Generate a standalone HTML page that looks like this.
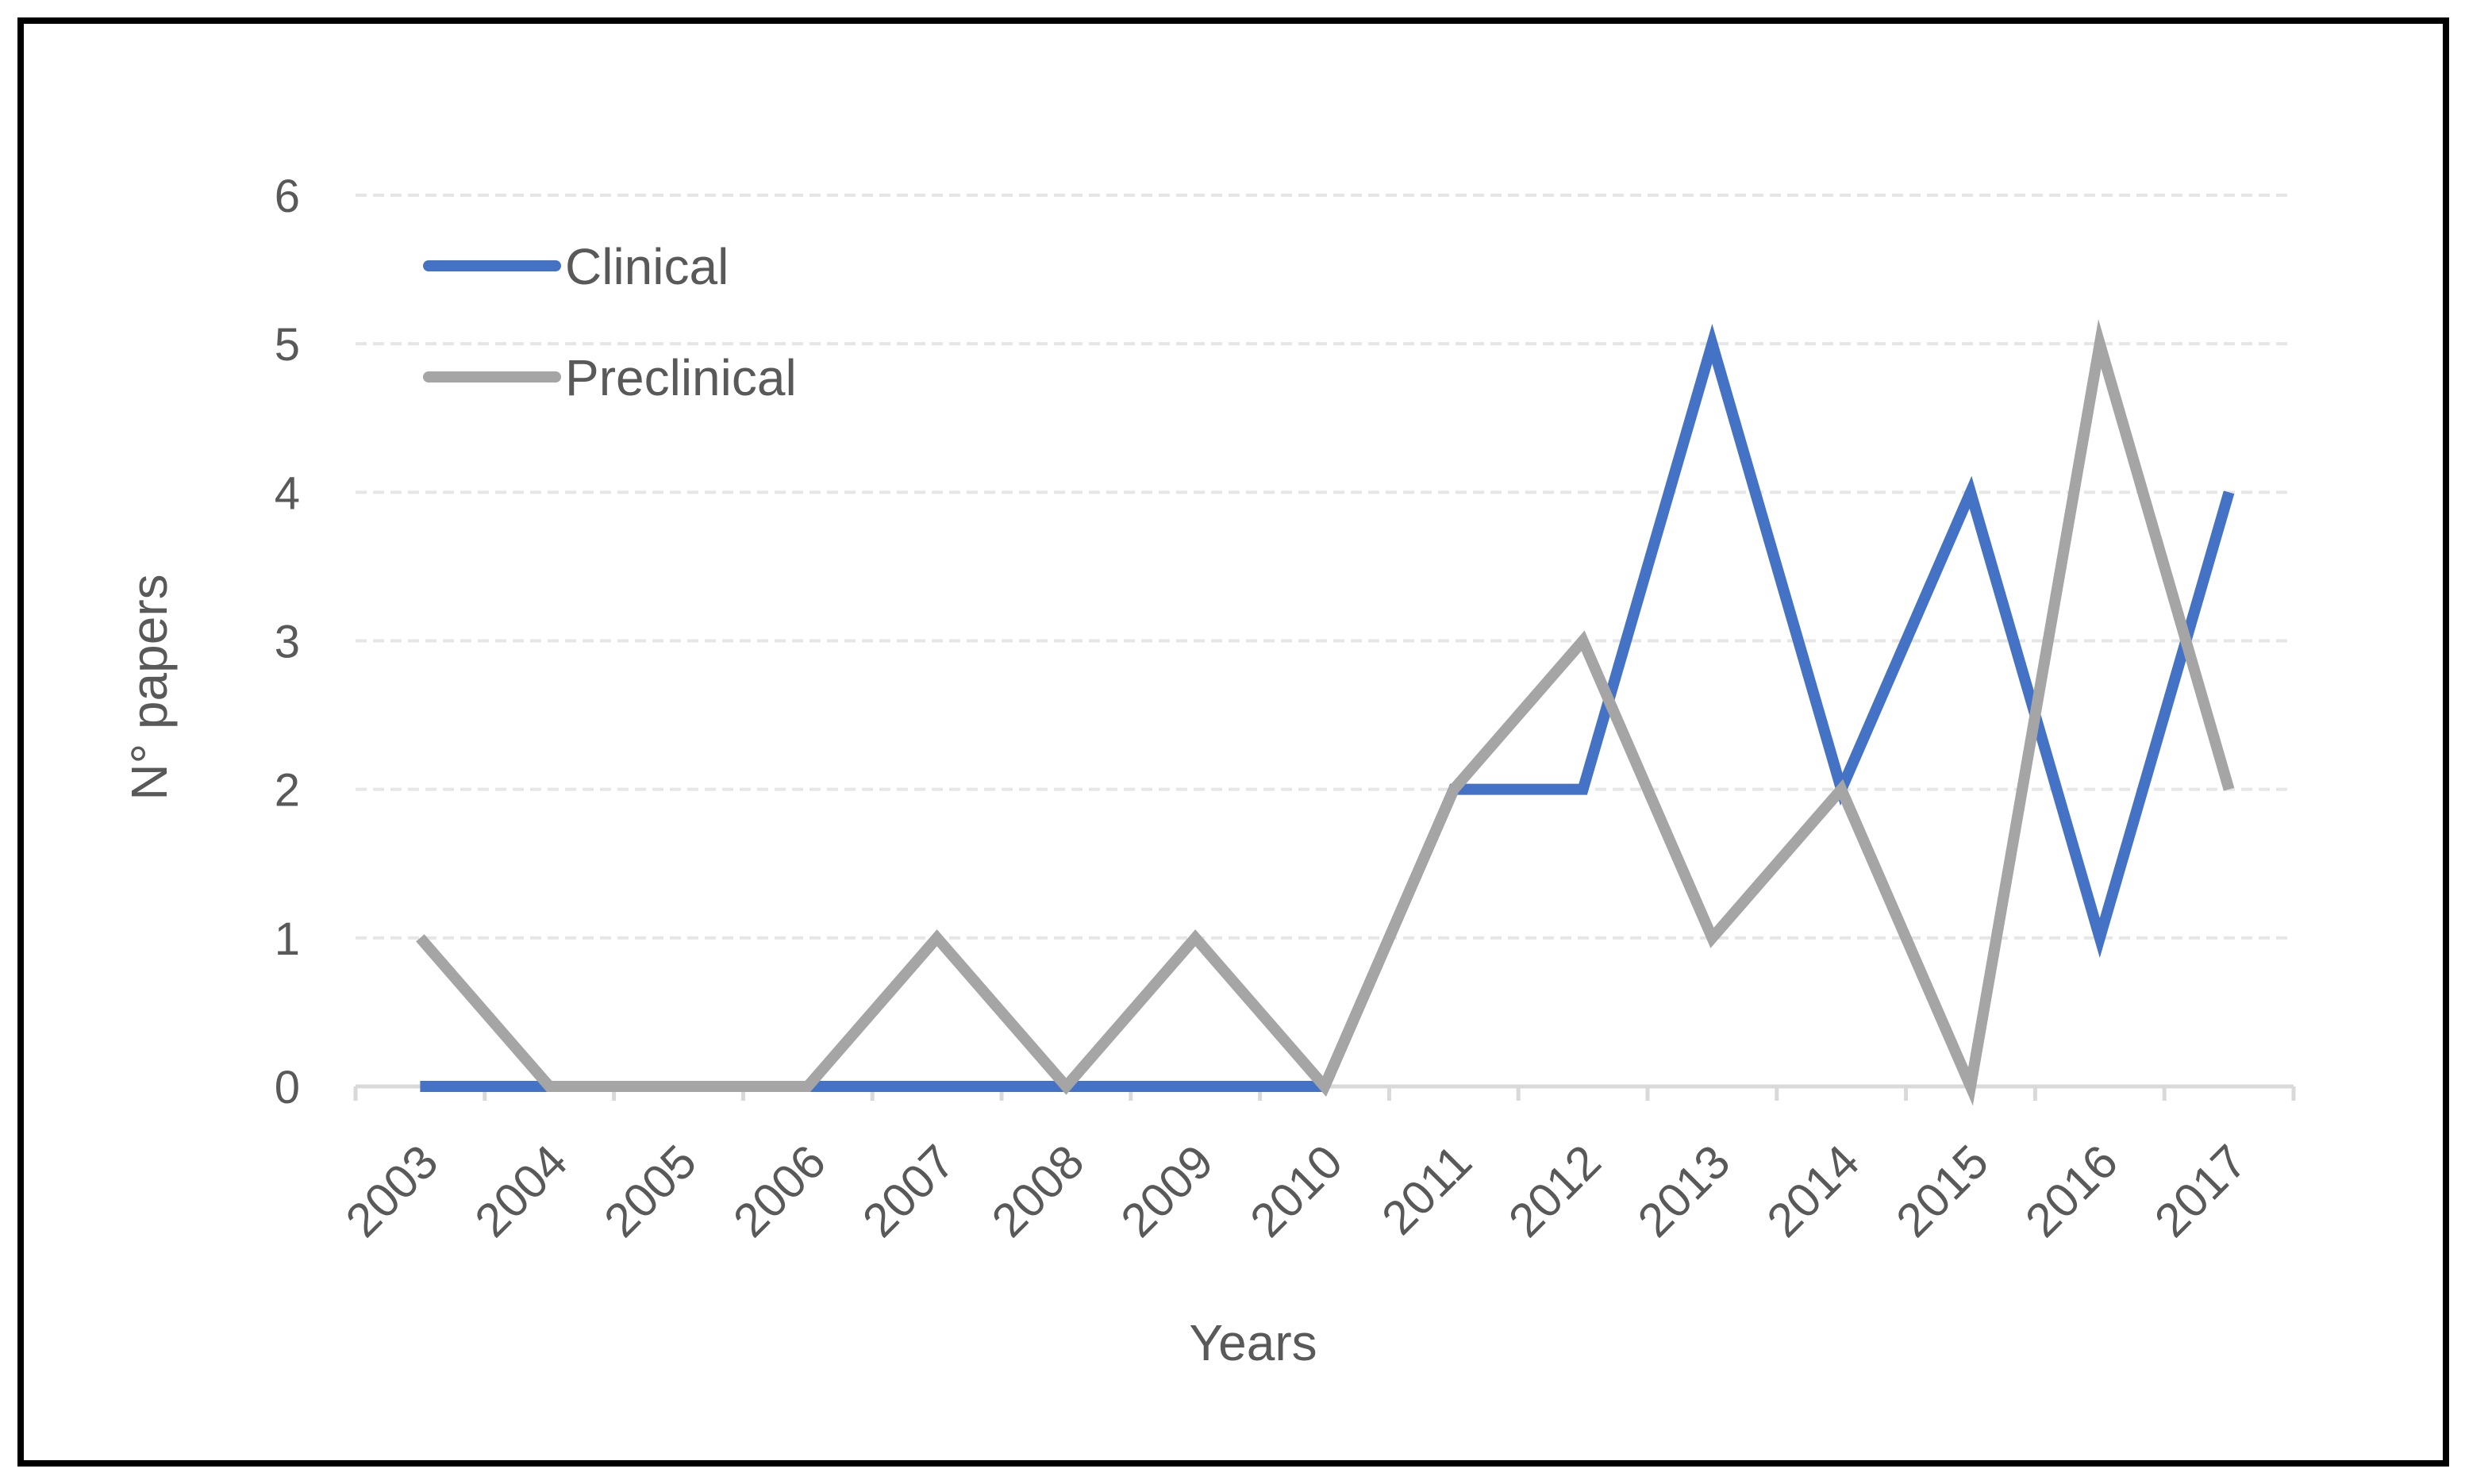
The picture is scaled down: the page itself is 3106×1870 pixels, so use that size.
<!DOCTYPE html>
<html><head><meta charset="utf-8"><style>
html,body{margin:0;padding:0;background:#fff;}
svg{display:block;font-family:"Liberation Sans",sans-serif;}
</style></head><body>
<svg id="chart" width="3106" height="1870" viewBox="0 0 3106 1870" xmlns="http://www.w3.org/2000/svg">
<rect x="26" y="26" width="3056" height="1818" fill="#fff" stroke="#000" stroke-width="8"/>
<g id="grid"></g><g id="axis"></g><g id="series"></g>
<text x="1579" y="1714" font-size="64" fill="#595959" text-anchor="middle">Years</text>
<text transform="translate(210,866) rotate(-90)" font-size="64" fill="#595959" text-anchor="middle">N° papers</text>
<g>
<line x1="540" y1="335" x2="700" y2="335" stroke="#4472c4" stroke-width="14" stroke-linecap="round"/>
<text x="712" y="358" font-size="64" fill="#595959">Clinical</text>
<line x1="540" y1="475" x2="700" y2="475" stroke="#a5a5a5" stroke-width="14" stroke-linecap="round"/>
<text x="712" y="498" font-size="64" fill="#595959">Preclinical</text>
</g>
</svg>
<script>
const years = ["2003","2004","2005","2006","2007","2008","2009","2010","2011","2012","2013","2014","2015","2016","2017"];
const clinical = [0,0,0,0,0,0,0,0,2,2,5,2,4,1,4];
const preclinical = [1,0,0,0,1,0,1,0,2,3,1,2,0,5,2];
const yTicks = [0,1,2,3,4,5,6];
const NS="http://www.w3.org/2000/svg";
const L=448,R=2890,T=246,B=1369,yMax=6;
const bw=(R-L)/years.length;
function xPos(i){return L+(i+0.5)*bw;}
function yPos(v){return B-(v/yMax)*(B-T);}
function mk(tag,attrs,parent){const e=document.createElementNS(NS,tag);for(const k in attrs)e.setAttribute(k,attrs[k]);parent.appendChild(e);return e;}
const grid=document.getElementById('grid'),axis=document.getElementById('axis'),ser=document.getElementById('series');
yTicks.forEach(v=>{
  if(v>0){const g=mk('line',{x1:L,x2:R,y1:yPos(v),y2:yPos(v),stroke:'#e6e6e6','stroke-width':4,'stroke-dasharray':'14 8'},grid);
  
  }
  const t=mk('text',{x:378,y:yPos(v)+21,'font-size':58,fill:'#595959','text-anchor':'end'},axis);
  t.textContent=v;
  
  
});
const ax=mk('line',{x1:L,x2:R,y1:B,y2:B,stroke:'#d9d9d9','stroke-width':5},axis);


for(let i=0;i<=years.length;i++){
  const tk=mk('line',{x1:L+i*bw,x2:L+i*bw,y1:B,y2:B+18,stroke:'#d9d9d9','stroke-width':5},axis);
  
  
}
years.forEach((y,i)=>{
  const cx=xPos(i)+26,cy=1468;
  const t=mk('text',{x:cx,y:cy,'font-size':60,fill:'#595959','text-anchor':'end',transform:`rotate(-45 ${cx} ${cy})`},axis);
  t.textContent=y;
  
  
});
function draw(data,color,name){
  const p=mk('polyline',{points:data.map((v,i)=>xPos(i)+','+yPos(v)).join(' '),fill:'none',stroke:color,'stroke-width':14,'stroke-linejoin':'miter','stroke-miterlimit':10},ser);
  
  
}
draw(clinical,'#4472c4','clinical-line');
draw(preclinical,'#a5a5a5','preclinical-line');
</script>
</body></html>
